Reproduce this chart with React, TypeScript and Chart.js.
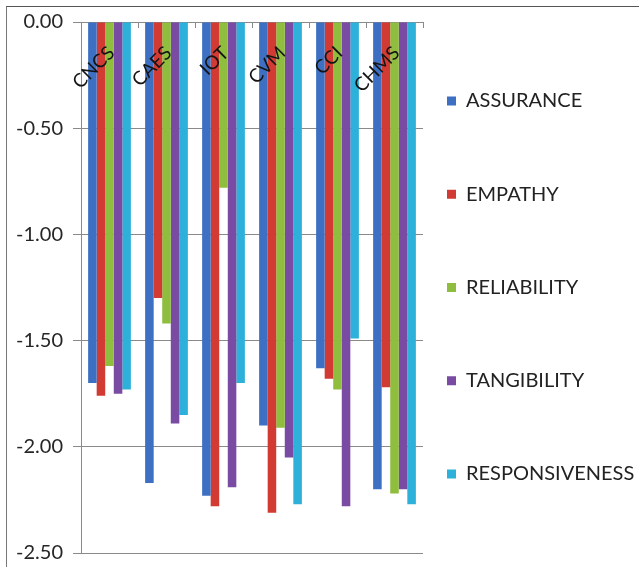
import React, { useEffect, useRef } from "react";
import { Chart, registerables } from "chart.js";

Chart.register(...registerables);

const categories = ["CNCS", "CAES", "IOT", "CVM", "CCI", "CHMS"];
const seriesNames = ["ASSURANCE", "EMPATHY", "RELIABILITY", "TANGIBILITY", "RESPONSIVENESS"];
const assurance = [-1.70, -2.17, -2.23, -1.90, -1.63, -2.20];
const empathy = [-1.76, -1.30, -2.28, -2.31, -1.68, -1.72];
const reliability = [-1.62, -1.42, -0.78, -1.91, -1.73, -2.22];
const tangibility = [-1.75, -1.89, -2.19, -2.05, -2.28, -2.20];
const responsiveness = [-1.73, -1.85, -1.70, -2.27, -1.49, -2.27];
const seriesColors = ["#3D6FC2", "#D13B33", "#8FBE3E", "#7A4BA3", "#2DB0D9"];
const yMin = -2.5;
const yMax = 0;
const yStep = 0.5;

const FONT = "Lato, 'Open Sans', sans-serif";

const categoryLabels = {
  id: "categoryLabels",
  afterDatasetsDraw(chart: any) {
    const { ctx, chartArea, scales } = chart;
    const x = scales.x;
    const n = categories.length;
    ctx.save();
    ctx.strokeStyle = "#8a8a8a";
    ctx.lineWidth = 1;
    for (let i = 0; i <= n; i++) {
      let px;
      if (i === 0) px = chartArea.left;
      else if (i === n) px = chartArea.right;
      else px = (x.getPixelForValue(i - 1) + x.getPixelForValue(i)) / 2;
      px = Math.round(px) + 0.5;
      ctx.beginPath();
      ctx.moveTo(px, chartArea.top);
      ctx.lineTo(px, chartArea.top + 6);
      ctx.stroke();
    }
    ctx.font = "19px " + FONT;
    ctx.fillStyle = "#141414";
    ctx.textAlign = "right";
    ctx.textBaseline = "middle";
    categories.forEach((c, i) => {
      const cx = x.getPixelForValue(i);
      ctx.save();
      ctx.translate(cx + 2, chartArea.top + 28);
      ctx.rotate(-Math.PI / 4);
      ctx.fillText(c, 0, 0);
      ctx.restore();
    });
    ctx.restore();
  },
};

export default function App() {
  const ref = useRef<HTMLCanvasElement | null>(null);

  useEffect(() => {
    document.body.style.margin = "0";
    const canvas = ref.current;
    if (!canvas) return;

    const mctx = document.createElement("canvas").getContext("2d")!;
    mctx.font = "20px " + FONT;
    let textW = 0;
    seriesNames.forEach((s) => {
      textW = Math.max(textW, mctx.measureText(s).width);
    });
    const padRight = Math.max(0, 163 - textW);

    const values = [assurance, empathy, reliability, tangibility, responsiveness];
    const chart = new Chart(canvas, {
      type: "bar",
      data: {
        labels: categories,
        datasets: seriesNames.map((name, i) => ({
          label: name,
          data: values[i],
          backgroundColor: seriesColors[i],
          borderWidth: 0,
          barPercentage: 1,
          categoryPercentage: 0.75,
        })),
      },
      options: {
        responsive: false,
        animation: false,
        devicePixelRatio: 1,
        layout: { padding: { top: 22, bottom: 0, left: 0, right: padRight } },
        scales: {
          x: { display: false },
          y: {
            min: yMin,
            max: yMax,
            afterFit: (scale: any) => {
              scale.width = 81;
            },
            ticks: {
              stepSize: yStep,
              padding: 10,
              color: "#262626",
              font: { family: FONT, size: 20, lineHeight: 0.4 },
              callback: (v: any) => Number(v).toFixed(2),
            },
            grid: { color: "#8a8a8a", tickLength: 8, lineWidth: 1 },
            border: { display: true, color: "#8a8a8a" },
          },
        },
        plugins: {
          tooltip: { enabled: false },
          legend: {
            position: "right",
            align: "start",
            maxWidth: 216 - padRight,
            title: { display: true, text: "", font: { size: 20, lineHeight: 2.25 }, padding: 0 },
            labels: {
              boxWidth: 9,
              boxHeight: 9,
              padding: 24,
              color: "#222222",
              font: { family: FONT, size: 20, lineHeight: 69.25 / 20 },
              generateLabels: (c: any) =>
                Chart.defaults.plugins.legend.labels
                  .generateLabels(c)
                  .map((l: any) => ({ ...l, text: [l.text] })),
            },
          },
        },
      },
      plugins: [categoryLabels],
    });
    return () => chart.destroy();
  }, []);

  return (
    <div style={{ position: "relative", width: 639, height: 567, background: "#fff" }}>
      <div
        style={{
          position: "absolute",
          left: 6,
          top: 6,
          right: 0,
          bottom: 0,
          borderTop: "1px solid #555",
          borderLeft: "1px solid #777",
        }}
      />
      <canvas ref={ref} width={639} height={567} style={{ position: "absolute", left: 0, top: 0 }} />
    </div>
  );
}
